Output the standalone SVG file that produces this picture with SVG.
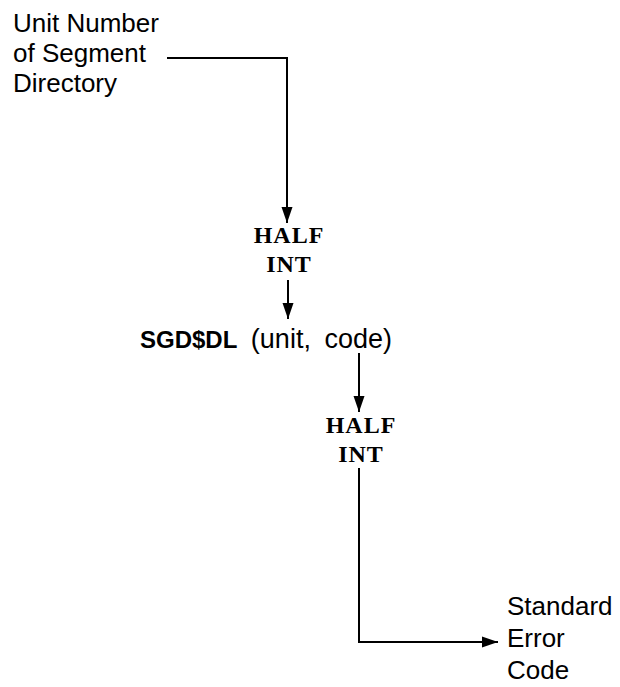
<svg xmlns="http://www.w3.org/2000/svg" width="620" height="687" viewBox="0 0 620 687">
<defs>
<style>
.lbl{font-family:"Liberation Sans",Arial,sans-serif;font-size:26px;fill:#000}
.mono{font-family:"Liberation Serif","Times New Roman",serif;font-size:24px;font-weight:bold;letter-spacing:1px;fill:#000;text-anchor:middle}
.call{font-family:"Liberation Sans",Arial,sans-serif;font-size:27px;fill:#000;word-spacing:6px}
.ln{fill:none;stroke:#000;stroke-width:2}
</style>
<marker id="ah" viewBox="0 0 16 12" refX="16" refY="6" markerWidth="16" markerHeight="12" markerUnits="userSpaceOnUse" orient="auto">
<path d="M0,0.5 L16,6 L0,11.5 Z" fill="#000"/>
</marker>
</defs>
<rect width="620" height="687" fill="#fff"/>
<g id="input">
<text class="lbl" x="13" y="32">Unit Number</text>
<text class="lbl" x="13" y="62">of Segment</text>
<text class="lbl" x="13" y="92">Directory</text>
</g>
<g id="type1">
<text class="mono" x="289" y="243">HALF</text>
<text class="mono" x="289" y="272">INT</text>
</g>
<g id="call">
<text class="call" x="140" y="348"><tspan font-weight="bold" font-size="24">SGD$DL</tspan> (unit, code)</text>
</g>
<g id="type2">
<text class="mono" x="361" y="433">HALF</text>
<text class="mono" x="361" y="462">INT</text>
</g>
<g id="output">
<text class="lbl" x="507" y="615">Standard</text>
<text class="lbl" x="507" y="647">Error</text>
<text class="lbl" x="507" y="679">Code</text>
</g>
<g id="connectors">
<path class="ln" d="M167,58 H287 V223" marker-end="url(#ah)"/>
<path class="ln" d="M288,280 V319" marker-end="url(#ah)"/>
<path class="ln" d="M359,353 V412" marker-end="url(#ah)"/>
<path class="ln" d="M359,468 V642 H498" marker-end="url(#ah)"/>
</g>
</svg>
